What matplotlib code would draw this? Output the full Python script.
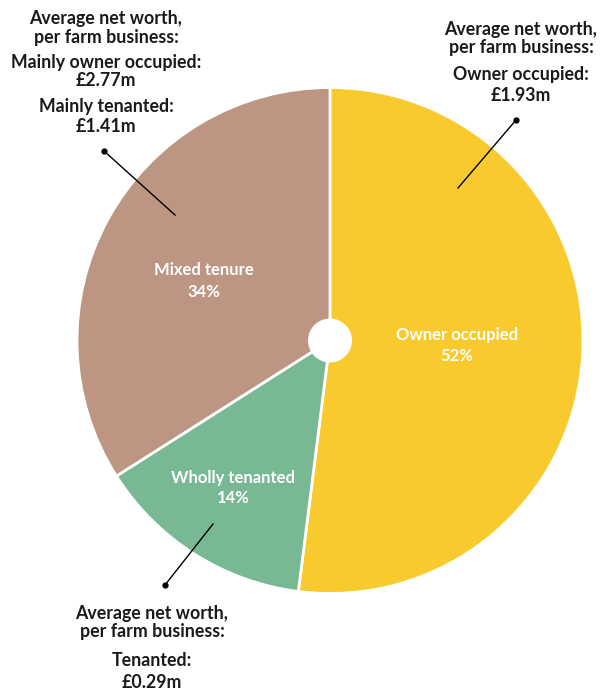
import matplotlib
matplotlib.use("Agg")
import matplotlib.pyplot as plt
from matplotlib.patches import Circle

categories = ["Owner occupied", "Wholly tenanted", "Mixed tenure"]
shares = [52, 14, 34]
colors = ["#F9CA2D", "#78B893", "#BC9683"]

net_worth_labels = ["Owner occupied:", "Tenanted:", "Mainly owner occupied:", "Mainly tenanted:"]
net_worth_values = [1.93, 0.29, 2.77, 1.41]

W, H = 602, 691
fig = plt.figure(figsize=(W / 100, H / 100), dpi=100)
ax = fig.add_axes([0, 0, 1, 1])

def Y(py):
    return H - py

cx, cy, R = 330, Y(340.5), 253
wedges, _ = ax.pie(shares, colors=colors, startangle=90, counterclock=False,
                   center=(cx, cy), radius=R, frame=True,
                   wedgeprops=dict(edgecolor="white", linewidth=2))
ax.set_xlim(0, W)
ax.set_ylim(0, H)
ax.set_aspect("equal")
ax.axis("off")
ax.add_patch(Circle((cx, cy), 22, facecolor="white", edgecolor="none", zorder=5))

FONT = "Lato"
inner = dict(color="white", fontsize=12, fontweight="bold", family=FONT,
             ha="center", va="center", zorder=6)
inner_pos = [(457, 335, 356), (233, 478, 498), (204, 270, 292)]
for cat, s, (x, y1, y2) in zip(categories, shares, inner_pos):
    ax.text(x, Y(y1), cat, **inner)
    ax.text(x, Y(y2), f"{s}%", **inner)

outer = dict(color="#1a1a1a", fontsize=12.8, fontweight="bold", family=FONT,
             ha="center", va="center")

def block(x, lines):
    for txt, py in lines:
        ax.text(x, Y(py), txt, **outer)

block(521, [("Average net worth,", 29), ("per farm business:", 47),
            (net_worth_labels[0], 74), (f"£{net_worth_values[0]:.2f}m", 95)])
block(152, [("Average net worth,", 613), ("per farm business:", 632),
            (net_worth_labels[1], 661), (f"£{net_worth_values[1]:.2f}m", 682)])
block(106, [("Average net worth,", 18), ("per farm business:", 37),
            (net_worth_labels[2], 62), (f"£{net_worth_values[2]:.2f}m", 80),
            (net_worth_labels[3], 106), (f"£{net_worth_values[3]:.2f}m", 126)])

leaders = [((516, 120), (458, 188)), ((104, 151), (175, 215)), ((165, 585), (213, 524))]
for (x0, y0), (x1, y1) in leaders:
    ax.plot([x0, x1], [Y(y0), Y(y1)], color="black", linewidth=1, zorder=7)
    ax.plot([x0], [Y(y0)], marker="o", markersize=3.5, color="black", zorder=7)

fig.savefig("out.png", dpi=100)
